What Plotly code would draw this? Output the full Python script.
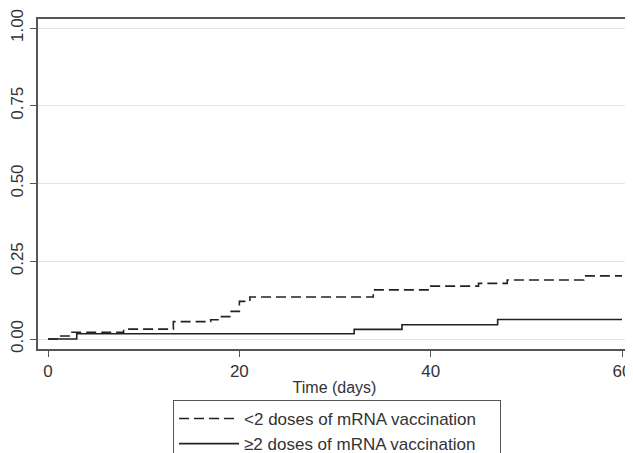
import plotly.graph_objects as go

# <2 doses (dashed) step function
lt2_days = [0, 1.2, 2.3, 7.9, 13.1, 17, 18, 19, 20, 21.1, 34, 40, 45, 48, 56, 60]
lt2_vals = [0, 0.010, 0.022, 0.032, 0.056, 0.062, 0.072, 0.089, 0.121, 0.135, 0.158, 0.170, 0.179, 0.190, 0.203, 0.203]

# >=2 doses (solid) step function
ge2_days = [0, 3, 32, 37, 47, 60]
ge2_vals = [0, 0.017, 0.031, 0.046, 0.063, 0.063]

x_ticks = [0, 20, 40, 60]
y_ticks = [0, 0.25, 0.5, 0.75, 1.0]
y_tick_labels = ["0.00", "0.25", "0.50", "0.75", "1.00"]
series_names = ["<2 doses of mRNA vaccination", "≥2 doses of mRNA vaccination"]

pad = "\u00a0" * 4  # right padding inside the legend box

fig = go.Figure()
fig.add_trace(go.Scatter(x=lt2_days, y=lt2_vals, mode="lines", line_shape="hv",
                         line=dict(color="#222", width=1.6, dash="10px,5px"),
                         name=series_names[0] + pad))
fig.add_trace(go.Scatter(x=ge2_days, y=ge2_vals, mode="lines", line_shape="hv",
                         line=dict(color="#222", width=1.6),
                         name=series_names[1] + pad))

font = "Liberation Sans, Arial, sans-serif"
# page body has an 8px margin, so the figure is 8px smaller and margins shifted
fig.update_layout(
    width=625, height=445,
    margin=dict(l=30, r=2, t=11, b=104, autoexpand=False),
    paper_bgcolor="white", plot_bgcolor="white",
    font=dict(family=font, size=16, color="#333"),
    xaxis=dict(range=[-1.05, 60.94], tickvals=x_ticks, ticks="outside", ticklen=6,
               showgrid=False, zeroline=False, showline=True, linecolor="#555",
               linewidth=1.5, mirror=True, tickcolor="#555", automargin=False,
               tickfont=dict(size=17),
               title=dict(text="Time (days)", font=dict(size=16), standoff=2)),
    yaxis=dict(range=[-0.032, 1.029], tickvals=y_ticks, ticktext=y_tick_labels,
               tickangle=-90, ticks="outside", ticklen=6, showgrid=True,
               gridcolor="#e3e3e3", gridwidth=1.2, zeroline=False, showline=True,
               linecolor="#555", linewidth=1.5, mirror=True, tickcolor="#555",
               automargin=False, tickfont=dict(size=17)),
    legend=dict(x=0.2277, y=-0.1545, xanchor="left", yanchor="top",
                bordercolor="#555", borderwidth=1, bgcolor="white",
                font=dict(size=17), itemwidth=60, tracegroupgap=0),
    showlegend=True,
)

fig.write_html("out.html")
